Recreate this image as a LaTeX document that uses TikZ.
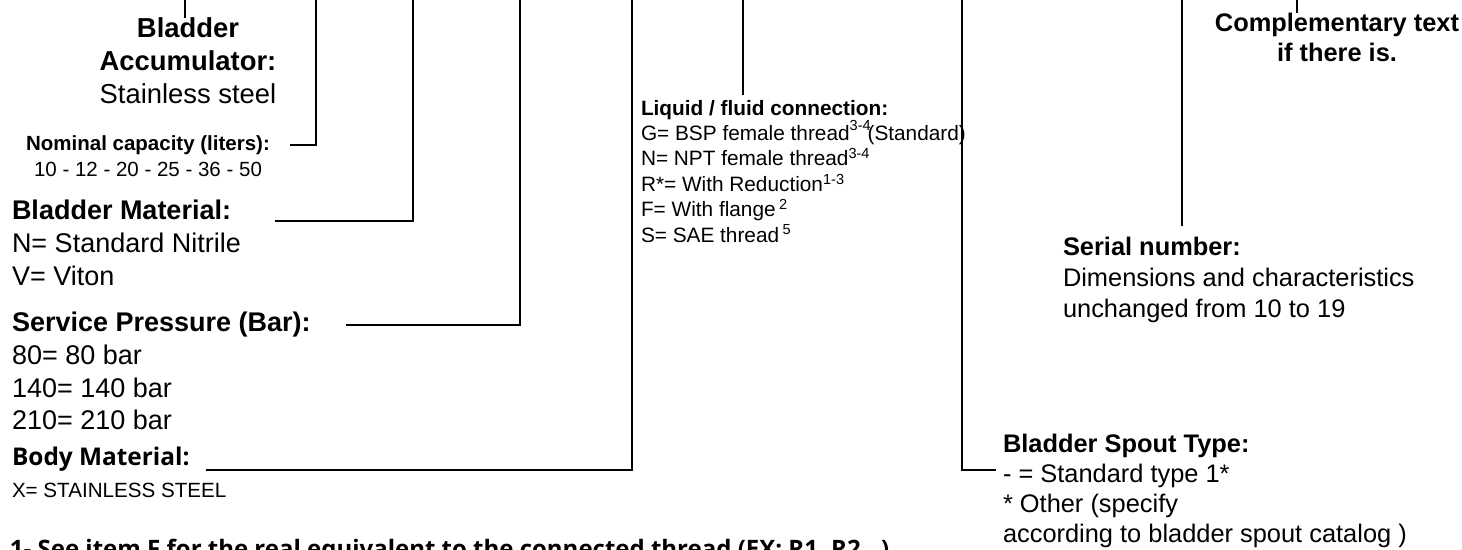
\documentclass[tikz,border=0pt]{standalone}
\usepackage{fontspec}
\setmainfont{Liberation Sans}
\newfontfamily\opensans{Open Sans}
\usetikzlibrary{calc}

\begin{document}
\begin{tikzpicture}[x=0.5pt, y=-0.5pt,
    conn/.style={line width=1.4pt},
    lbl/.style={inner sep=0pt, outer sep=0pt, align=left},
    big/.style={font=\fontsize{13.5}{16.5}\selectfont},
    mid/.style={font=\fontsize{12.7}{14.9}\selectfont},
    small/.style={font=\fontsize{10.4}{12.7}\selectfont}]
    \useasboundingbox (0,0) rectangle (1462,550);

    % top ends of the connectors
    \coordinate (tacc) at (185,0);
    \coordinate (tnom) at (316,0);
    \coordinate (tmat) at (413,0);
    \coordinate (tpress) at (520,0);
    \coordinate (tbody) at (632,0);
    \coordinate (tliq) at (743,0);
    \coordinate (tspout) at (962,0);
    \coordinate (tser) at (1182,0);
    \coordinate (tcomp) at (1297,0);

    % left column
    \node[lbl, align=center, anchor=north, font=\fontsize{13.7}{16.5}\selectfont]
        (acc) at (188,18) {\textbf{Bladder}\\\textbf{Accumulator:}\\Stainless steel};
    \node[lbl, align=center, anchor=north, font=\fontsize{10.25}{13}\selectfont]
        (nomcap) at (148,136) {\textbf{Nominal capacity (liters):}\\10 - 12 - 20 - 25 - 36 - 50};
    \node[lbl, big, anchor=base west] (bmat) at (12,220) {\textbf{Bladder Material:}};
    \node[lbl, big, anchor=north west] (bmatv) at (12,233) {N= Standard Nitrile\\V= Viton};
    \node[lbl, big, anchor=base west] (press) at (12,332) {\textbf{Service Pressure (Bar):}};
    \node[lbl, anchor=north west, font=\fontsize{13.5}{16.25}\selectfont]
        (pressv) at (12,345) {80= 80 bar\\140= 140 bar\\210= 210 bar};
    \node[lbl, anchor=base west, font=\opensans\bfseries\fontsize{12.2}{14}\selectfont]
        (body) at (12,466) {Body Material:};
    \node[lbl, anchor=base west, font=\fontsize{10.3}{12}\selectfont]
        (bodyv) at (12,497) {X= STAINLESS STEEL};

    % middle
    \node[lbl, small, anchor=north west] (liq) at (641,100)
        {\textbf{Liquid / fluid connection:}\\
         G= BSP female thread\raisebox{0.25ex}{\textsuperscript{3-4}}\hspace{-0.2em}(Standard)\\
         N= NPT female thread\textsuperscript{3-4}\\
         R*= With Reduction\textsuperscript{1-3}\\
         F= With flange\,\textsuperscript{2}\\
         S= SAE thread\,\textsuperscript{5}};

    % right side
    \node[lbl, mid, align=center, anchor=north] (comp) at (1337,13)
        {\textbf{Complementary text}\\\textbf{if there is.}};
    \node[lbl, mid, anchor=base west] (serial) at (1063,256) {\textbf{Serial number:}};
    \node[lbl, anchor=north west, font=\fontsize{12.7}{15.5}\selectfont]
        (serialv) at (1063,268.5) {Dimensions and characteristics\\unchanged from 10 to 19};
    \node[lbl, mid, anchor=base west] (spout) at (1003,453) {\textbf{Bladder Spout Type:}};
    \node[lbl, mid, anchor=north west] (spoutv) at (1003,464)
        {- = Standard type 1*\\* Other (specify\\according to bladder spout catalog )};

    % footnote, cut by the lower edge
    \node[lbl, anchor=base west, font=\opensans\bfseries\fontsize{12}{14}\selectfont]
        (note) at (10,558) {1- See item F for the real equivalent to the connected thread (EX: R1, R2...)};

    % connectors
    \draw[conn] (tacc) -- (acc.north -| tacc);
    \draw[conn] ($(nomcap.north east)+(20,9)$) -| (tnom);
    \draw[conn] ($(bmat.base east)+(44,1)$) -| (tmat);
    \draw[conn] ($(press.base east)+(35,-7)$) -| (tpress);
    \draw[conn] ($(body.base east)+(16,4)$) -| (tbody);
    \draw[conn] (tliq) -- ($(liq.north -| tliq)+(0,-5)$);
    \draw[conn] (tspout) |- ($(spoutv.north west)+(-7,6)$);
    \draw[conn] (tser) -- ($(serial.north -| tser)+(0,-12)$);
    \draw[conn] (tcomp) -- (comp.north -| tcomp);
\end{tikzpicture}
\end{document}
